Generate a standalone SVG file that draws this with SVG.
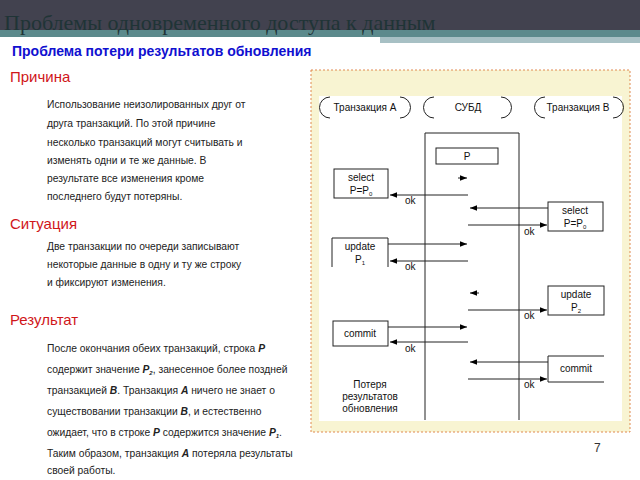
<svg xmlns="http://www.w3.org/2000/svg" width="640" height="480" viewBox="0 0 640 480">
<defs>
<marker id="ah" viewBox="0 0 10 10" refX="10" refY="5" markerWidth="10" markerHeight="7" orient="auto-start-reverse"><path d="M0,1 L10,5 L0,9 Z" fill="#000"/></marker>
<clipPath id="tc"><rect x="0" y="15" width="640" height="30"/></clipPath>
<style>
.t{font-family:"Liberation Sans",Arial,sans-serif;font-size:10.3px;fill:#222}
.d{font-family:"Liberation Sans",Arial,sans-serif;font-size:10px;fill:#111}
.h{font-family:"Liberation Sans",Arial,sans-serif;font-size:15px;fill:#d0161a}
.b{fill:#fff;stroke:#222;stroke-width:1}
.l{stroke:#222;stroke-width:1;fill:none}
</style>
</defs>
<rect width="640" height="480" fill="#fff"/>
<rect x="380" y="30" width="260" height="13" fill="#a7c0c4"/>
<rect x="0" y="0" width="640" height="30" fill="#42424f"/>
<rect x="0" y="30" width="640" height="7" fill="#5c8a8c"/>
<text x="4" y="30" clip-path="url(#tc)" font-family="Liberation Serif,serif" font-size="22" fill="#1f3436">Проблемы одновременного доступа к данным</text>
<text x="12" y="56" font-family="Liberation Sans,Arial,sans-serif" font-size="14" font-weight="bold" fill="#1010d0">Проблема потери результатов обновления</text>
<text class="h" x="10" y="82">Причина</text>
<g class="t"><text x="47" y="108">Использование неизолированных друг от</text><text x="47" y="127">друга транзакций. По этой причине</text><text x="47" y="146">несколько транзакций могут считывать и</text><text x="47" y="164">изменять одни и те же данные. В</text><text x="47" y="182">результате все изменения кроме</text><text x="47" y="200">последнего будут потеряны.</text></g>
<text class="h" x="10" y="229">Ситуация</text>
<g class="t"><text x="47" y="250">Две транзакции по очереди записывают</text><text x="47" y="268">некоторые данные в одну и ту же строку</text><text x="47" y="286">и фиксируют изменения.</text></g>
<text class="h" x="10" y="325">Результат</text>
<g class="t">
<text x="47" y="352">После окончания обеих транзакций, строка <tspan font-weight="bold" font-style="italic">P</tspan></text>
<text x="47" y="373">содержит значение <tspan font-weight="bold" font-style="italic">P<tspan font-size="6" dy="2">2</tspan></tspan><tspan dy="-2">, занесенное более поздней</tspan></text>
<text x="47" y="394">транзакцией <tspan font-weight="bold" font-style="italic">B</tspan>. Транзакция <tspan font-weight="bold" font-style="italic">A</tspan> ничего не знает о</text>
<text x="47" y="415">существовании транзакции <tspan font-weight="bold" font-style="italic">B</tspan>, и естественно</text>
<text x="47" y="436">ожидает, что в строке <tspan font-weight="bold" font-style="italic">P</tspan> содержится значение <tspan font-weight="bold" font-style="italic">P<tspan font-size="6" dy="2">1</tspan></tspan><tspan dy="-2">.</tspan></text>
<text x="47" y="457">Таким образом, транзакция <tspan font-weight="bold" font-style="italic">A</tspan> потеряла результаты</text>
<text x="47" y="474">своей работы.</text>
</g>
<rect x="311" y="70" width="319" height="362" fill="#f8f4d2" stroke="#e08a50" stroke-dasharray="2,2"/>
<rect x="319" y="96" width="303" height="325" fill="#fff"/>
<g id="hdrA"><path class="l" d="M330,97 A10,10 0 0 0 330,118 M400,97 A10,10 0 0 1 400,118"/><text class="d" x="365" y="111" text-anchor="middle">Транзакция A</text></g>
<g id="hdrDB"><path class="l" d="M434,97 A10,10 0 0 0 434,118 M501,97 A10,10 0 0 1 501,118"/><text class="d" x="468" y="111" text-anchor="middle">СУБД</text></g>
<g id="hdrB"><path class="l" d="M545,97 A10,10 0 0 0 545,118 M613,97 A10,10 0 0 1 613,118"/><text class="d" x="578" y="111" text-anchor="middle">Транзакция B</text></g>
<g id="dbms"><path class="l" d="M425,420 V133 H519 V420"/></g>
<g id="P"><rect class="b" x="436" y="148" width="62" height="16"/><text class="d" x="467" y="160" text-anchor="middle">P</text></g>
<g id="selA"><rect class="b" x="334" y="169" width="54" height="29"/><text class="d" x="361" y="181" text-anchor="middle">select</text><text class="d" x="361" y="194" text-anchor="middle">P=P<tspan font-size="6" dy="2">0</tspan></text></g>
<g id="selB"><rect class="b" x="548" y="202" width="55" height="29"/><text class="d" x="575" y="214" text-anchor="middle">select</text><text class="d" x="575" y="227" text-anchor="middle">P=P<tspan font-size="6" dy="2">0</tspan></text></g>
<g id="updA"><path class="l" d="M332,267 V238 H388 V267"/><text class="d" x="360" y="250" text-anchor="middle">update</text><text class="d" x="360" y="263" text-anchor="middle">P<tspan font-size="6" dy="2">1</tspan></text></g>
<g id="updB"><rect class="b" x="548" y="286" width="56" height="29"/><text class="d" x="576" y="298" text-anchor="middle">update</text><text class="d" x="576" y="311" text-anchor="middle">P<tspan font-size="6" dy="2">2</tspan></text></g>
<g id="comA"><rect class="b" x="333" y="321" width="55" height="25"/><text class="d" x="360" y="337" text-anchor="middle">commit</text></g>
<g id="comB"><path class="l" d="M604,356 H548 V382 H604"/><text class="d" x="576" y="372" text-anchor="middle">commit</text></g>
<g id="loss" class="d" text-anchor="middle"><text x="370" y="388">Потеря</text><text x="370" y="400">результатов</text><text x="370" y="412">обновления</text></g>
<g id="connectors" class="l" marker-end="url(#ah)">
<path d="M458,178 H467"/>
<path d="M468,195 H390"/>
<path d="M548,208 H470"/>
<path d="M468,225 H547"/>
<path d="M388,244 H467"/>
<path d="M468,261 H390"/>
<path d="M479,293 H470"/>
<path d="M468,310 H547"/>
<path d="M388,327 H467"/>
<path d="M468,342 H390"/>
<path d="M548,362 H470"/>
<path d="M468,379 H547"/>
</g>
<g class="d"><text x="405" y="204">ok</text><text x="524" y="235">ok</text><text x="405" y="270">ok</text><text x="524" y="319">ok</text><text x="405" y="352">ok</text><text x="524" y="388">ok</text></g>
<text x="594" y="452" font-family="Liberation Sans,Arial,sans-serif" font-size="12" fill="#333">7</text>
</svg>
